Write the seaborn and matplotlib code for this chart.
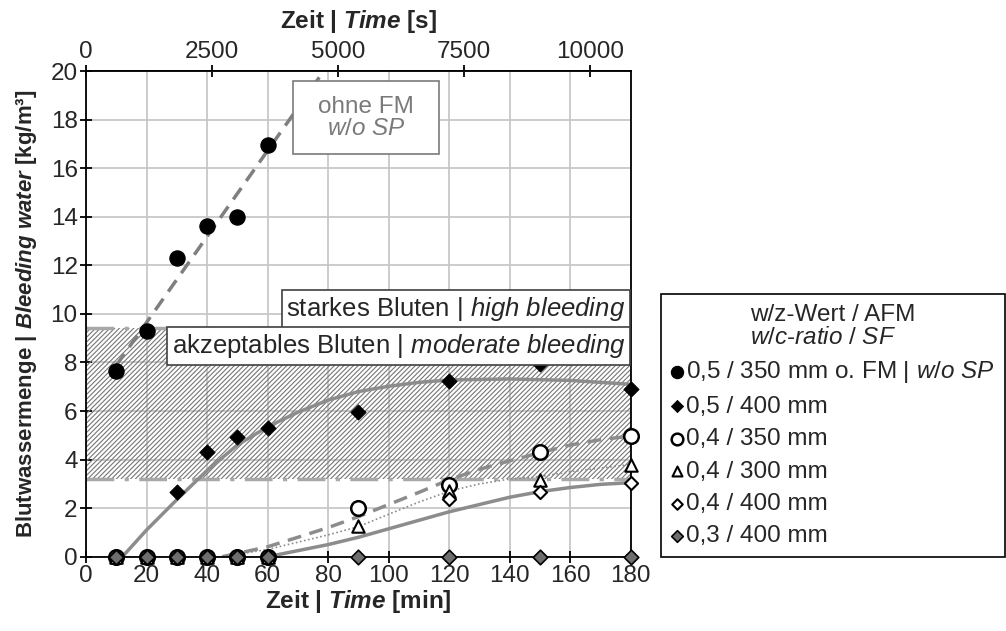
import numpy as np
import pandas as pd
import matplotlib
matplotlib.use("Agg")
import matplotlib.pyplot as plt
from matplotlib.patches import Rectangle
import seaborn as sns

# measured bleeding water [kg/m3] over time [min]
t_all = [10, 20, 30, 40, 50, 60, 90, 120, 150, 180]
t_early = [10, 20, 30, 40, 50, 60]

bw_05_350_wosp = [7.65, 9.3, 12.3, 13.6, 14.0, 16.95]
bw_05_400 = [0.0, 0.0, 2.65, 4.3, 4.95, 5.3, 5.95, 7.25, 7.95, 6.9]
bw_04_350 = [0.0, 0.0, 0.0, 0.0, 0.0, 0.0, 2.0, 2.95, 4.32, 4.97]
bw_04_300 = [0.0, 0.0, 0.0, 0.0, 0.0, 0.0, 1.25, 2.7, 3.16, 3.78]
t_04_400 = [10, 20, 30, 40, 50, 60, 120, 150, 180]
bw_04_400 = [0.0, 0.0, 0.0, 0.0, 0.0, 0.0, 2.37, 2.68, 3.03]
bw_03_400 = [0.0] * 10

# trend lines
tr_05_400_t = [12, 20, 30, 40, 50, 60, 70, 80, 90, 100, 110, 120, 140, 160, 180]
tr_05_400_y = [0.0, 1.1, 2.35, 3.55, 4.6, 5.35, 5.95, 6.45, 6.8, 7.02, 7.18, 7.28, 7.32, 7.26, 7.1]
tr_04_350_t = [45, 60, 70, 80, 90, 100, 110, 120, 130, 140, 150, 160, 170, 180]
tr_04_350_y = [0.0, 0.41, 0.8, 1.2, 1.65, 2.15, 2.65, 3.17, 3.6, 3.95, 4.28, 4.6, 4.82, 4.97]
tr_04_300_t = [45, 60, 70, 80, 90, 100, 110, 120, 130, 140, 150, 160, 170, 180]
tr_04_300_y = [0.0, 0.3, 0.6, 0.9, 1.24, 1.75, 2.25, 2.7, 3.0, 3.2, 3.3, 3.5, 3.65, 3.8]
tr_04_400_t = [60, 70, 80, 90, 100, 110, 120, 130, 140, 150, 160, 170, 180]
tr_04_400_y = [0.0, 0.25, 0.5, 0.8, 1.15, 1.5, 1.85, 2.15, 2.45, 2.68, 2.85, 2.98, 3.05]

band_low, band_high = 3.2, 9.4

sns.set_theme(style="whitegrid")
plt.rcParams['font.family'] = ['Liberation Sans', 'DejaVu Sans']
plt.rcParams['mathtext.fontset'] = 'custom'
plt.rcParams['mathtext.rm'] = 'Liberation Sans'
plt.rcParams['mathtext.it'] = 'Liberation Sans:italic'
plt.rcParams['mathtext.bf'] = 'Liberation Sans:bold'
plt.rcParams['mathtext.bfit'] = 'Liberation Sans:bold:italic'
plt.rcParams['hatch.linewidth'] = 0.8
plt.rcParams['hatch.color'] = '#767676'

FS = 17.5

fig = plt.figure(figsize=(10.06, 6.31), dpi=100)
ax = fig.add_axes([0.0855, 0.1177, 0.5415, 0.7697])

# bleeding classes
ax.fill_between([0, 180], band_low, band_high, facecolor='none',
                hatch='///////', edgecolor='#767676', linewidth=0, zorder=1)
for yb in (band_low, band_high):
    ax.axhline(yb, color='#a8a8a8', lw=2.5, ls=(0, (8, 3, 1.2, 3)), zorder=1.5)

# linear trend for mix without SP
k, d = np.polyfit(t_early, bw_05_350_wosp, 1)
xfit = np.array([10, (20 - d) / k])
sns.lineplot(x=xfit, y=k * xfit + d, ax=ax, color='#7f7f7f', lw=2.5,
             linestyle=(0, (4, 2.5)), zorder=2)
sns.lineplot(x=tr_05_400_t, y=tr_05_400_y, ax=ax, color='#8c8c8c', lw=2.5, zorder=2)
sns.lineplot(x=tr_04_350_t, y=tr_04_350_y, ax=ax, color='#8c8c8c', lw=2.5,
             linestyle=(0, (4, 2.5)), zorder=2)
sns.lineplot(x=tr_04_300_t, y=tr_04_300_y, ax=ax, color='#8c8c8c', lw=1.2,
             linestyle=(0, (1, 1.5)), zorder=2)
sns.lineplot(x=tr_04_400_t, y=tr_04_400_y, ax=ax, color='#8c8c8c', lw=2.5, zorder=2)

kw = dict(ax=ax, clip_on=False, zorder=4)
sns.scatterplot(x=t_early, y=bw_05_350_wosp, marker='o', s=120, color='black',
                edgecolor='black', label=r'0,5 / 350 mm o. FM | $\mathit{w/o\ SP}$', **kw)
sns.scatterplot(x=t_all, y=bw_05_400, marker='D', s=60, color='black',
                edgecolor='black', label='0,5 / 400 mm', **kw)
sns.scatterplot(x=t_all, y=bw_04_350, marker='o', s=110, facecolor='white',
                edgecolor='black', linewidth=1.8, label='0,4 / 350 mm', **kw)
sns.scatterplot(x=t_all, y=bw_04_300, marker='^', s=80, facecolor='white',
                edgecolor='black', linewidth=1.5, label='0,4 / 300 mm', **kw)
sns.scatterplot(x=t_04_400, y=bw_04_400, marker='D', s=45, facecolor='white',
                edgecolor='black', linewidth=1.5, label='0,4 / 400 mm', **kw)
sns.scatterplot(x=t_all, y=bw_03_400, marker='D', s=55, color='#6e6e6e',
                edgecolor='black', linewidth=1.2, label='0,3 / 400 mm', **kw)

ax.set_xlim(0, 180)
ax.set_ylim(0, 20)
ax.set_xticks(range(0, 181, 20))
ax.set_yticks(range(0, 21, 2))
ax.grid(True, color='#c8c8c8', lw=1.3)
for s in ax.spines.values():
    s.set_color('black')
    s.set_linewidth(1.3)
ax.tick_params(axis='both', direction='inout', length=8, width=1.3, color='black',
               labelsize=FS, pad=2, bottom=True, left=True)
ax.set_xlabel(r'Zeit | $\mathbfit{Time}$ [min]', fontsize=FS, fontweight='bold', labelpad=1)
ax.set_ylabel(r'Blutwassermenge | $\mathbfit{Bleeding\ water}$ [kg/m³]', fontsize=16,
              fontweight='bold', labelpad=8)

sec = ax.secondary_xaxis('top', functions=(lambda m: m * 60, lambda s: s / 60))
sec.set_xticks([0, 2500, 5000, 7500, 10000])
sec.tick_params(direction='inout', length=8, width=1.3, color='black', labelsize=FS, pad=2)
sec.spines['top'].set_color('black')
sec.set_xlabel(r'Zeit | $\mathbfit{Time}$ [s]', fontsize=FS, fontweight='bold', labelpad=9)

# annotation boxes
ax.add_patch(Rectangle((68.4, 16.6), 48.3, 3.0, facecolor='white', edgecolor='#7a7a7a',
                       lw=1.2, zorder=5))
ax.text(92.5, 18.05, 'ohne FM\n' + r'$\mathit{w/o\ SP}$', ha='center', va='center', fontsize=FS,
        color='#7a7a7a', linespacing=1.0, zorder=6)
box = dict(boxstyle='square,pad=0.18', facecolor='white', edgecolor='#404040', lw=1.2)
ax.text(178.3, 10.2, r'starkes Bluten | $\mathit{high\ bleeding}$', ha='right', va='center',
        fontsize=18.5, zorder=5, bbox=box)
ax.text(178.3, 8.68, r'akzeptables Bluten | $\mathit{moderate\ bleeding}$', ha='right',
        va='center', fontsize=18.5, zorder=5, bbox=box)

leg = ax.legend(loc='lower left', bbox_to_anchor=(0.657, 0.117), bbox_transform=fig.transFigure,
                title='w/z-Wert / AFM\n' + r'$\mathit{w/c}$' + '-' + r'$\mathit{ratio\ /\ SF}$',
                fontsize=17.5, title_fontsize=17.5, markerscale=0.8, handlelength=0.5,
                handletextpad=0.15, borderpad=0.4, labelspacing=0.43, frameon=True,
                fancybox=False, framealpha=1, borderaxespad=0)
leg.get_title().set_linespacing(1.05)
leg.get_frame().set_edgecolor('black')
leg.get_frame().set_linewidth(1.2)

fig.savefig('out.png', dpi=100)
